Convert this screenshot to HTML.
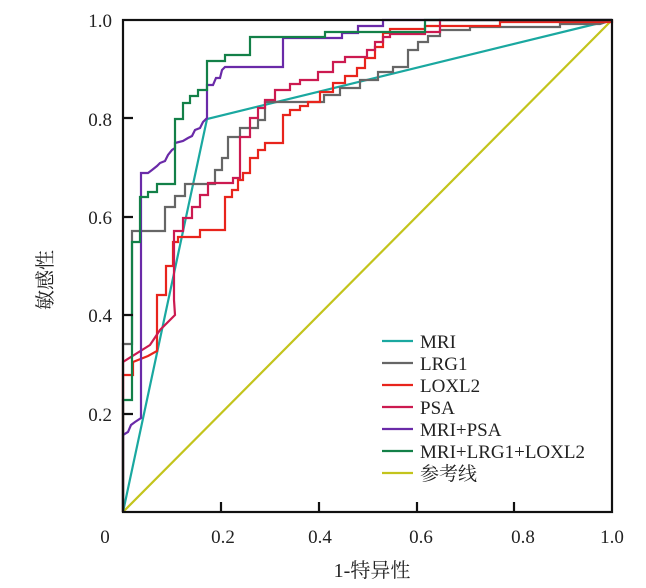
<!DOCTYPE html>
<html><head><meta charset="utf-8"><style>
html,body{margin:0;padding:0;background:#fff;}
svg{display:block;font-family:"Liberation Serif","Noto Serif CJK SC",serif;}
</style></head><body>
<svg width="646" height="588" viewBox="0 0 646 588" xmlns="http://www.w3.org/2000/svg">
<rect width="646" height="588" fill="#fff"/>
<g fill="none" stroke-width="2.2" stroke-linejoin="miter">
<polyline stroke="#c3c41c" points="123,512 612,20"/>
<polyline stroke="#1aa8a0" points="123,512 207,119 612,20"/>
<polyline stroke="#666" points="123,512 123,344 132,344 132,231 165,231 165,207 175,207 175,196 185,196 185,184 215,184 215,170 222,170 222,158 228,158 228,137 240,137 240,128 258,128 258,120 265,120 265,102 324,102 324,95 340,95 340,88 360,88 360,80 378,80 378,72 393,72 393,67 408,67 408,50 418,50 418,42 428,42 428,36 440,36 440,30 470,30 470,27 560,27 560,24 600,24 612,20"/>
<polyline stroke="#e8241c" points="123,512 123,375 133,375 133,362 148,356 157,351 157,295 166,295 166,266 173,266 173,242 178,242 178,237 200,237 200,230 225,230 225,197 232,197 232,190 238,190 238,180 243,180 243,173 250,173 250,158 258,158 258,150 265,150 265,143 283,143 283,137 283,115 290,115 290,110 300,110 300,106 308,106 308,102 320,102 320,92 333,92 333,83 345,83 345,76 357,76 357,68 365,68 365,58 375,58 375,47 383,47 383,33 390,33 390,29 425,29 425,26 500,26 500,22 612,22 612,20"/>
<polyline stroke="#cc1a50" points="123,512 123,362 150,345 160,330 175,315 174,300 174,231 183,231 183,218 192,218 192,207 200,207 200,195 208,195 208,183 233,183 233,178 240,178 240,137 250,137 250,118 258,118 258,108 265,108 265,100 275,100 275,90 290,90 290,84 300,84 300,80 318,80 318,72 333,72 333,62 345,62 345,57 367,57 367,50 375,50 375,42 383,42 383,37 390,37 390,34 425,34 425,32 440,32 440,20 612,20"/>
<polyline stroke="#6a2aa8" points="123,512 123,435 128,432 131,425 135,422 141,418 141,173 148,173 152,170 157,166 160,163 165,161 168,155 172,150 175,148 175,143 183,141 188,138 192,136 195,130 200,128 203,122 207,118 207,85 213,85 216,78 220,78 222,70 225,67 283,67 283,38 342,38 342,33 358,33 358,26 383,26 383,20 612,20"/>
<polyline stroke="#138048" points="123,512 123,400 132,400 132,242 140,242 140,197 148,197 148,192 157,192 157,184 175,184 175,150 175,119 183,119 183,103 190,103 190,96 198,96 198,90 207,90 207,61 225,61 225,55 250,55 250,37 325,37 325,32 425,32 425,20 612,20"/>
</g>
<g stroke="#111" stroke-width="2.2" fill="none">
<rect x="123" y="20" width="489" height="492"/>
<path d="M123,118h10M123,217h10M123,315h10M123,414h10M221,512v-10M319,512v-10M417,512v-10M514,512v-10"/>
</g>
<g font-size="19" fill="#222">
<text x="112" y="27" text-anchor="end">1.0</text>
<text x="112" y="126" text-anchor="end">0.8</text>
<text x="112" y="224" text-anchor="end">0.6</text>
<text x="112" y="322" text-anchor="end">0.4</text>
<text x="112" y="421" text-anchor="end">0.2</text>
<text x="105" y="543" text-anchor="middle">0</text>
<text x="223" y="543" text-anchor="middle">0.2</text>
<text x="320" y="543" text-anchor="middle">0.4</text>
<text x="421" y="543" text-anchor="middle">0.6</text>
<text x="523" y="543" text-anchor="middle">0.8</text>
<text x="612" y="543" text-anchor="middle">1.0</text>
<text x="372" y="577" text-anchor="middle" font-size="20">1-特异性</text>
<text transform="translate(52,280) rotate(-90)" text-anchor="middle" font-size="20">敏感性</text>
</g>
<g stroke-width="2.2">
<line x1="382" y1="341" x2="413" y2="341" stroke="#1aa8a0"/>
<line x1="382" y1="363" x2="413" y2="363" stroke="#666"/>
<line x1="382" y1="385" x2="413" y2="385" stroke="#e8241c"/>
<line x1="382" y1="407" x2="413" y2="407" stroke="#cc1a50"/>
<line x1="382" y1="429" x2="413" y2="429" stroke="#6a2aa8"/>
<line x1="382" y1="451" x2="413" y2="451" stroke="#138048"/>
<line x1="382" y1="473" x2="413" y2="473" stroke="#c3c41c"/>
</g>
<g font-size="19" fill="#222">
<text x="420" y="348">MRI</text>
<text x="420" y="370">LRG1</text>
<text x="420" y="392">LOXL2</text>
<text x="420" y="414">PSA</text>
<text x="420" y="436">MRI+PSA</text>
<text x="420" y="458">MRI+LRG1+LOXL2</text>
<text x="420" y="480">参考线</text>
</g>
</svg>
</body></html>
